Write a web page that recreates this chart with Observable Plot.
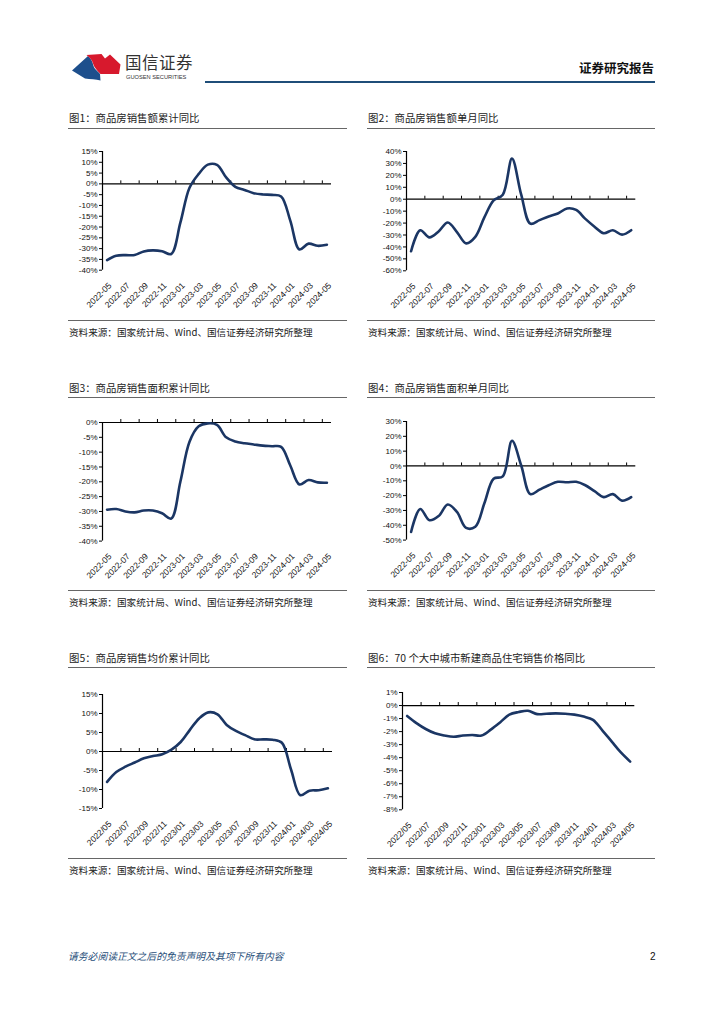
<!DOCTYPE html>
<html><head><meta charset="utf-8">
<script src="https://cdn.jsdelivr.net/npm/d3@7"></script>
<script src="https://cdn.jsdelivr.net/npm/@observablehq/plot@0.6"></script>
<style>
html,body{margin:0;padding:0;background:#fff;}
#page{position:relative;width:724px;height:1024px;overflow:hidden;font-family:"Noto Sans CJK SC","Liberation Sans",sans-serif;}
.abs{position:absolute;white-space:nowrap;}
.title{font-size:10.4px;line-height:12px;color:#222;}
.src{font-size:9.6px;line-height:12px;color:#222;}
.hline{position:absolute;height:0;border-top:1px solid #666;}
</style></head>
<body><div id="page"></div>
<script>
// ---- data ----
const months = ["2022-05","2022-06","2022-07","2022-08","2022-09","2022-10","2022-11","2022-12",
  "2023-01","2023-02","2023-03","2023-04","2023-05","2023-06","2023-07","2023-08","2023-09","2023-10",
  "2023-11","2023-12","2024-01","2024-02","2024-03","2024-04","2024-05"];
const salesValueCum = [-35.3,-33.3,-33.0,-33.0,-31.3,-30.8,-31.2,-32.5,-18.0,-1.8,4.6,8.9,8.8,3.0,-1.4,-2.8,-4.3,-4.9,-5.1,-5.8,-17.0,-30.4,-27.7,-28.7,-28.2];
const salesValueMonth = [-43.6,-26.0,-32.0,-27.0,-19.5,-27.5,-37.0,-31.5,-15.0,-1.0,3.8,34.0,4.0,-20.5,-17.5,-14.5,-12.0,-7.8,-9.0,-16.5,-23.0,-28.5,-26.0,-29.7,-26.0];
const salesAreaCum = [-29.4,-29.2,-30.0,-30.3,-29.7,-29.7,-30.6,-32.4,-20.0,-6.5,-1.3,-0.3,-0.8,-5.0,-6.4,-7.0,-7.4,-7.8,-8.0,-8.2,-14.5,-20.9,-19.4,-20.2,-20.3];
const salesAreaMonth = [-44.5,-29.0,-36.6,-33.8,-26.0,-31.0,-41.8,-41.0,-25.0,-8.6,-7.0,17.0,0.5,-19.0,-16.0,-13.0,-10.7,-11.0,-10.7,-13.0,-17.0,-21.0,-19.0,-23.4,-21.0];
const avgPriceCum = [-8.0,-5.4,-4.0,-2.9,-1.8,-1.2,-0.7,0.5,2.5,5.7,8.7,10.3,9.8,7.0,5.4,4.3,3.2,3.2,3.1,2.3,-4.8,-11.5,-10.3,-10.2,-9.7];
const newHomePrice70 = [-0.8,-1.35,-1.8,-2.13,-2.3,-2.4,-2.3,-2.26,-2.3,-1.85,-1.3,-0.7,-0.5,-0.4,-0.66,-0.63,-0.6,-0.63,-0.7,-0.85,-1.1,-1.9,-2.75,-3.6,-4.3];

const titles = ["图1：商品房销售额累计同比","图2：商品房销售额单月同比","图3：商品房销售面积累计同比",
  "图4：商品房销售面积单月同比","图5：商品房销售均价累计同比","图6：70 个大中城市新建商品住宅销售价格同比"];
const sourceText = "资料来源：国家统计局、Wind、国信证券经济研究所整理";

const page = document.getElementById("page");
function addDiv(cls, text, style){const d=document.createElement("div");d.className=cls;if(text!=null)d.textContent=text;Object.assign(d.style,style);page.appendChild(d);return d;}

// header
page.insertAdjacentHTML("beforeend", `
<svg class="abs" style="left:0;top:0" width="724" height="100">
  <path d="M72,70.5 L88,56 C92,59.5 93,63.5 93.5,66 C95,70 99,72 100,74 L100.5,80.5 C96,79.5 90,79 85,78.5 Z" fill="#1d4f8c"/>
  <path d="M86.5,55 L101.5,54 L105,58.5 L110,54.5 L120.5,64.5 L119,74 L100.5,74 C97,70.5 94,67 93,63.5 C92,60 90,57.5 86.5,55 Z" fill="#d7192d"/>
  <line x1="205" y1="82" x2="655" y2="82" stroke="#1f4e79" stroke-width="2"/>
  <line x1="68" y1="948.5" x2="655" y2="948.5" stroke="#2e5f94" stroke-width="1"/>
</svg>`);
addDiv("abs","国信证券",{left:"125px",top:"53px",fontSize:"16.5px",lineHeight:"18px",color:"#333",letterSpacing:"0.5px"});
addDiv("abs","GUOSEN SECURITIES",{left:"126px",top:"74px",fontSize:"5.7px",lineHeight:"7px",color:"#333",fontFamily:"'Liberation Sans',sans-serif"});
addDiv("abs","证券研究报告",{left:"579px",top:"61px",fontSize:"12.5px",lineHeight:"14px",color:"#111",fontWeight:"bold"});
// footer
addDiv("abs","请务必阅读正文之后的免责声明及其项下所有内容",{left:"68px",top:"951px",fontSize:"9.8px",lineHeight:"11px",color:"#1f4e79",fontStyle:"italic"});
addDiv("abs","2",{left:"650px",top:"951px",fontSize:"10px",lineHeight:"12px",color:"#111",fontFamily:"'Liberation Sans',sans-serif"});

function makeChart(values, yMin, yMax, step, sep, box){
  const {L,R,T,B} = box;
  const mL=44, mR=14, mT=12, mB=52;
  const width = R-L+mL+mR, height = B-T+mT+mB;
  const n = values.length;
  const tickLen = 3*(yMax-yMin)/(B-T);
  const bounds = d3.range(1.5, n-1, 2);
  const labelIdx = d3.range(0, n, 2);
  const svg = Plot.plot({
    width, height, marginLeft:mL, marginRight:mR, marginTop:mT, marginBottom:mB,
    x:{type:"linear", domain:[-0.5, n-0.5], axis:null},
    y:{domain:[yMin,yMax], axis:null},
    style:{fontFamily:"'Liberation Sans',Arial,sans-serif", fontSize:"8px", color:"#111", background:"transparent", overflow:"visible"},
    marks:[
      Plot.axisY({ticks:d3.range(yMin, yMax+step/2, step), tickSize:3, tickPadding:2, tickFormat:d=>d+"%", fontSize:8, stroke:"#000"}),
      Plot.ruleX([-0.5], {y1:yMin, y2:yMax, stroke:"#000", strokeWidth:1.2}),
      Plot.ruleY([0], {stroke:"#000", strokeWidth:1.2}),
      Plot.ruleX(bounds, {x:d=>d, y1:0, y2:tickLen, stroke:"#000"}),
      Plot.line(values, {x:(d,i)=>i, y:d=>d, curve:"catmull-rom", stroke:"#1b3664", strokeWidth:2.6, strokeLinejoin:"round"}),
      Plot.text(labelIdx, {x:d=>d, y:yMin, text:d=>months[d].replace("-", sep), rotate:-45, textAnchor:"end", dx:3, dy:14, fontSize:8.5, fill:"#111"})
    ]
  });
  svg.style.position="absolute";
  svg.style.left=(L-mL)+"px";
  svg.style.top=(T-mT)+"px";
  page.appendChild(svg);
}

const cols = [{x0:68,x1:347},{x0:367,x1:655}];
const rows = [{title:112,tline:128,sline:320,src:326},{title:382,tline:397,sline:590,src:596},{title:652,tline:667,sline:858,src:864}];
const specs = [
  {v:salesValueCum, min:-40, max:15, step:5, sep:"-", box:{L:101.7,R:330.7,T:151,B:269.7}},
  {v:salesValueMonth, min:-60, max:40, step:10, sep:"-", box:{L:405.7,R:635,T:151,B:270.3}},
  {v:salesAreaCum, min:-40, max:0, step:5, sep:"-", box:{L:101.7,R:330.7,T:421.7,B:540.3}},
  {v:salesAreaMonth, min:-50, max:30, step:10, sep:"-", box:{L:405.7,R:635,T:420.7,B:539.3}},
  {v:avgPriceCum, min:-15, max:15, step:5, sep:"/", box:{L:101.7,R:331.7,T:694.3,B:808.3}},
  {v:newHomePrice70, min:-8, max:1, step:1, sep:"/", box:{L:401.7,R:634,T:691.7,B:809}}
];
specs.forEach((s,k)=>{
  const c = cols[k%2], r = rows[Math.floor(k/2)];
  addDiv("abs title", titles[k], {left:(c.x0+1)+"px", top:r.title+"px"});
  addDiv("hline", null, {left:c.x0+"px", width:(c.x1-c.x0)+"px", top:r.tline+"px"});
  addDiv("hline", null, {left:c.x0+"px", width:(c.x1-c.x0)+"px", top:r.sline+"px"});
  addDiv("abs src", sourceText, {left:(c.x0+1)+"px", top:r.src+"px"});
  makeChart(s.v, s.min, s.max, s.step, s.sep, s.box);
});
</script></body></html>
